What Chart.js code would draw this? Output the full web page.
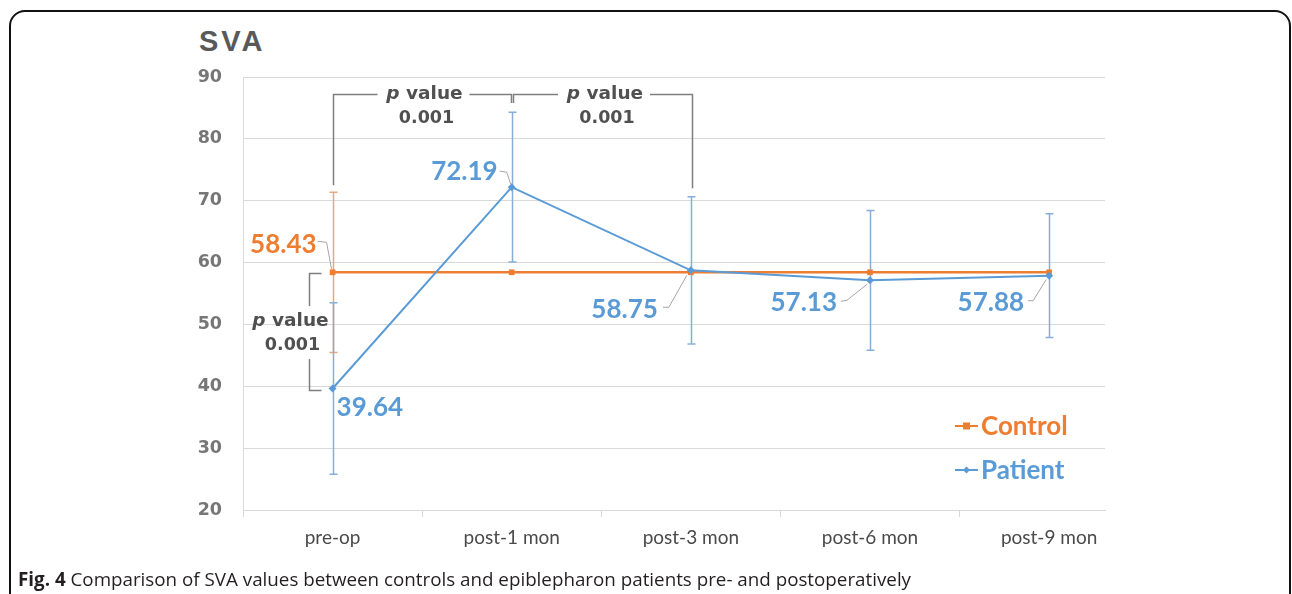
<!DOCTYPE html>
<html>
<head>
<meta charset="utf-8">
<script src="https://cdn.jsdelivr.net/npm/chart.js@4.4.1/dist/chart.umd.min.js"></script>
<style>
  html, body { margin: 0; padding: 0; background: #fff; }
  body { width: 1292px; height: 594px; position: relative; overflow: hidden; }
  #frame { position: absolute; left: 9px; top: 10px; width: 1282px; height: 620px; border: 2px solid #111; border-radius: 16px; box-sizing: border-box; }
  #title { position: absolute; left: 199px; top: 25px; font: bold 29px "Liberation Sans", Arial, sans-serif; color: #595959; letter-spacing: 3px; }
  #caption { position: absolute; left: 18px; top: 566px; font: 18.8px "Open Sans", sans-serif; color: #231f20; white-space: nowrap; }
  #caption b { font-weight: 700; }
  canvas { position: absolute; left: 0; top: 0; }
</style>
</head>
<body>
<div id="frame"></div>
<div id="title">SVA</div>
<canvas id="c" width="1292" height="594"></canvas>
<div id="caption"><b>Fig. 4</b> Comparison of SVA values between controls and epiblepharon patients pre- and postoperatively</div>
<script>
// data
const categories  = ['pre-op', 'post-1 mon', 'post-3 mon', 'post-6 mon', 'post-9 mon'];
const controlMean = [58.43, 58.43, 58.43, 58.43, 58.43];
const controlSD   = [12.95, null, null, null, null];
const patientMean = [39.64, 72.19, 58.75, 57.13, 57.88];
const patientSD   = [13.85, 12.1, 11.9, 11.3, 10.0];
const yTicks      = [20, 30, 40, 50, 60, 70, 80, 90];
const pValues     = ['0.001', '0.001', '0.001'];

const BLUE = '#5b9bd5', ORANGE = '#ed7d31', GREY = '#595959';

// where the value labels sit, pixel offsets from their point (+ leader line)
const labelLayout = {
  Control: [{ i: 0, dx: -16, dy: -28, align: 'right', leader: [[-15, -31], [-6, -30], [-1, -3]] }],
  Patient: [
    { i: 0, dx: 4,   dy: 19, align: 'left' },
    { i: 1, dx: -14, dy: -16, align: 'right', leader: [[-12, -16], [-5, -15], [-1, -3]] },
    { i: 2, dx: -33, dy: 39, align: 'right', leader: [[-28, 37], [-22, 37], [-4, 5]] },
    { i: 3, dx: -33, dy: 22, align: 'right', leader: [[-29, 21], [-23, 20], [-3, 4]] },
    { i: 4, dx: -25, dy: 27, align: 'right', leader: [[-21, 25], [-16, 25], [-3, 4]] }
  ]
};

const errorBars = {
  id: 'errorBars',
  beforeDatasetsDraw(chart) {
    const { ctx, scales: { x, y } } = chart;
    chart.data.datasets.forEach(ds => {
      if (!ds.sd) return;
      ctx.save();
      ctx.strokeStyle = ds.errColor;
      ctx.lineWidth = 1.5;
      ds.data.forEach((p, i) => {
        const sd = ds.sd[i];
        if (sd == null) return;
        const px = Math.round(x.getPixelForValue(p.x)) + 0.5;
        const top = y.getPixelForValue(p.y + sd), bot = y.getPixelForValue(p.y - sd);
        ctx.beginPath();
        ctx.moveTo(px, top); ctx.lineTo(px, bot);
        ctx.moveTo(px - 4, top); ctx.lineTo(px + 4, top);
        ctx.moveTo(px - 4, bot); ctx.lineTo(px + 4, bot);
        ctx.stroke();
      });
      ctx.restore();
    });
  }
};

function drawPText(ctx, cx, cy, val) {
  ctx.font = 'italic bold 18.5px "DejaVu Sans"';
  const wp = ctx.measureText('p').width;
  ctx.font = 'bold 18.5px "DejaVu Sans"';
  const wv = ctx.measureText(' value').width;
  let x0 = cx - (wp + wv) / 2;
  ctx.fillStyle = '#505050';
  ctx.textBaseline = 'middle';
  ctx.textAlign = 'left';
  ctx.font = 'italic bold 18.5px "DejaVu Sans"';
  ctx.fillText('p', x0, cy);
  ctx.font = 'bold 18.5px "DejaVu Sans"';
  ctx.fillText(' value', x0 + wp, cy);
  ctx.font = 'bold 17.5px "DejaVu Sans"';
  ctx.textAlign = 'center';
  ctx.fillText(val, cx + 2, cy + 24);
}

const annotations = {
  id: 'annotations',
  afterDatasetsDraw(chart) {
    const { ctx, chartArea, scales: { x, y } } = chart;
    ctx.save();

    // value labels with leader lines
    chart.data.datasets.forEach((ds, di) => {
      const meta = chart.getDatasetMeta(di);
      (labelLayout[ds.label] || []).forEach(l => {
        const pt = meta.data[l.i];
        if (l.leader) {
          ctx.strokeStyle = '#a6a6a6';
          ctx.lineWidth = 1;
          ctx.beginPath();
          l.leader.forEach((o, k) => k ? ctx.lineTo(pt.x + o[0], pt.y + o[1]) : ctx.moveTo(pt.x + o[0], pt.y + o[1]));
          ctx.stroke();
        }
        ctx.fillStyle = ds.borderColor;
        ctx.font = 'bold 26px Lato';
        ctx.textAlign = l.align;
        ctx.textBaseline = 'middle';
        ctx.fillText(ds.data[l.i].y.toFixed(2), pt.x + l.dx, pt.y + l.dy);
      });
    });

    // p value brackets
    ctx.strokeStyle = '#7f7f7f';
    ctx.lineWidth = 1.5;
    const yb = Math.round(y.getPixelForValue(87.25)) + 0.5;
    const tops = [
      { a: 0, b: 1, endA: 72.5, endB: 85.8, da: 0.5, db: -1 },
      { a: 1, b: 2, endA: 85.8, endB: 72.0, da: 1.5, db: 1 }
    ];
    tops.forEach((t, k) => {
      const xa = Math.round(x.getPixelForValue(t.a) + t.da) + 0.5;
      const xb = Math.round(x.getPixelForValue(t.b) + t.db) + 0.5;
      const mid = (xa + xb) / 2;
      ctx.beginPath();
      ctx.moveTo(xa, y.getPixelForValue(t.endA));
      ctx.lineTo(xa, yb);
      ctx.lineTo(mid - 45, yb);
      ctx.moveTo(mid + 47, yb);
      ctx.lineTo(xb, yb);
      ctx.lineTo(xb, y.getPixelForValue(t.endB));
      ctx.stroke();
      drawPText(ctx, mid + 2, yb, pValues[k]);
    });

    // vertical bracket between control and patient at pre-op
    const bx = Math.round(x.getPixelForValue(0)) - 23.5;
    const yTop = Math.round(y.getPixelForValue(controlMean[0])) + 1.5;
    const yBot = Math.round(y.getPixelForValue(patientMean[0])) + 1.5;
    const ym = (yTop + yBot) / 2;
    ctx.beginPath();
    ctx.moveTo(bx + 12, yTop); ctx.lineTo(bx, yTop); ctx.lineTo(bx, ym - 26);
    ctx.moveTo(bx, ym + 27); ctx.lineTo(bx, yBot); ctx.lineTo(bx + 12, yBot);
    ctx.stroke();
    drawPText(ctx, bx - 19, ym - 11, pValues[2]);

    // legend inside the plot
    const order = ['Control', 'Patient'];
    order.forEach((name, k) => {
      const di = chart.data.datasets.findIndex(d => d.label === name);
      const ds = chart.data.datasets[di];
      const lx = chartArea.right - 150, ly = chartArea.bottom - 84 + k * 44;
      ctx.strokeStyle = ds.borderColor;
      ctx.lineWidth = 2;
      ctx.beginPath(); ctx.moveTo(lx, ly); ctx.lineTo(lx + 23, ly); ctx.stroke();
      ctx.fillStyle = ds.borderColor;
      if (ds.pointStyle === 'rect') {
        ctx.fillRect(lx + 8, ly - 3.5, 7, 7);
      } else {
        ctx.beginPath();
        ctx.moveTo(lx + 11.5, ly - 3.5); ctx.lineTo(lx + 15, ly); ctx.lineTo(lx + 11.5, ly + 3.5); ctx.lineTo(lx + 8, ly);
        ctx.closePath(); ctx.fill();
      }
      ctx.font = 'bold 26px Lato';
      ctx.textAlign = 'left';
      ctx.textBaseline = 'middle';
      ctx.fillText(name, lx + 26, ly + 1);
    });

    ctx.restore();
  }
};

new Chart(document.getElementById('c'), {
  type: 'line',
  data: {
    datasets: [
      {
        label: 'Control',
        data: controlMean.map((v, i) => ({ x: i, y: v })),
        sd: controlSD,
        errColor: '#eaa878',
        borderColor: ORANGE,
        backgroundColor: ORANGE,
        borderWidth: 2.5,
        pointStyle: 'rect',
        pointRadius: 4,
        pointBorderWidth: 0,
        order: 1
      },
      {
        label: 'Patient',
        data: patientMean.map((v, i) => ({ x: i, y: v })),
        sd: patientSD,
        errColor: '#86aed9',
        borderColor: BLUE,
        backgroundColor: BLUE,
        borderWidth: 2,
        pointStyle: 'rectRot',
        pointRadius: 4,
        pointBorderWidth: 0,
        order: 0
      }
    ]
  },
  plugins: [errorBars, annotations],
  options: {
    responsive: false,
    animation: false,
    layout: { padding: { left: 183, top: 77, right: 187, bottom: 34 } },
    plugins: { legend: { display: false }, tooltip: { enabled: false } },
    scales: {
      x: {
        type: 'linear',
        min: -0.5,
        max: 4.312,
        afterFit: s => { s.height = 50; },
        afterBuildTicks: s => {
          const t = [];
          for (let v = -0.5; v <= 4; v += 0.5) t.push({ value: v });
          s.ticks = t;
        },
        grid: {
          drawOnChartArea: false,
          tickLength: 7,
          color: c => (c.tick && Number.isInteger(c.tick.value)) ? 'rgba(0,0,0,0)' : '#d9d9d9'
        },
        border: { color: '#d9d9d9' },
        ticks: {
          autoSkip: false,
          maxRotation: 0,
          padding: 9,
          color: '#4a4a4a',
          font: { family: 'Lato', size: 19 },
          callback: v => Number.isInteger(v) ? categories[v] : ''
        }
      },
      y: {
        min: yTicks[0],
        max: yTicks[yTicks.length - 1],
        afterFit: s => { s.width = 60; },
        afterBuildTicks: s => { s.ticks = yTicks.map(v => ({ value: v })); },
        grid: { color: '#d9d9d9', drawTicks: false },
        border: { color: '#d9d9d9' },
        ticks: {
          padding: 21,
          color: '#767676',
          font: { family: '"DejaVu Sans"', size: 17.5, weight: 'bold' }
        }
      }
    }
  }
});
</script>
</body>
</html>
